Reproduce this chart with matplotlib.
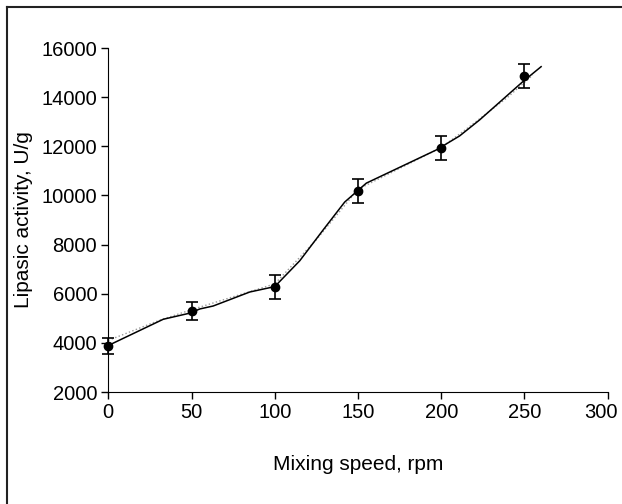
import matplotlib.pyplot as plt
from matplotlib.lines import Line2D
from matplotlib.transforms import ScaledTranslation

plt.rcParams['font.family'] = ['Liberation Sans', 'DejaVu Sans']

# measured points
speed = [0, 50, 100, 150, 200, 250]
activity = [3880, 5300, 6270, 10190, 11930, 14860]
err = [330, 380, 490, 490, 490, 490]

# solid connecting curve
curve_x = [0, 3, 33, 49, 55, 63, 85, 100, 115, 129, 142, 155, 197, 211, 223, 249, 260]
curve_y = [3880, 3990, 4960, 5210, 5380, 5500, 6070, 6290, 7340, 8590, 9730,
           10500, 11850, 12420, 13070, 14630, 15240]

# faint dotted trend line
trend_x = [0, 30, 50, 100, 125, 150, 200, 215, 240, 255]
trend_y = [4100, 4900, 5350, 6400, 8200, 10250, 11950, 12700, 14000, 14900]

fig = plt.figure(figsize=(6.22, 5.04), dpi=100)
ax = fig.add_axes([108.3 / 622, 1 - 392 / 504, 499.4 / 622, 344 / 504])

ax.plot(trend_x, trend_y, color='#999999', linestyle=':', linewidth=1.0)
ax.plot(curve_x, curve_y, color='black', linewidth=1.1)
ax.errorbar(speed, activity, yerr=err, fmt='o', color='black', markersize=6,
            capsize=4, elinewidth=1.2, capthick=1.2, clip_on=False, zorder=3)

ax.set_xlim(0, 300)
ax.set_ylim(2000, 16000)
ax.set_xticks(range(0, 301, 50))
ax.set_yticks(range(2000, 16001, 2000))
ax.spines['top'].set_visible(False)
ax.spines['right'].set_visible(False)
ax.tick_params(direction='out', length=5, labelsize=14.5, width=1, pad=3)
ax.set_xlabel('Mixing speed, rpm', fontsize=15, labelpad=24)
ax.set_ylabel('Lipasic activity, U/g', fontsize=15, labelpad=6)

# nudge the last x label left so it stays inside the figure
last = ax.get_xticklabels()[-1]
last.set_transform(last.get_transform() + ScaledTranslation(-7 / 100, 0, fig.dpi_scale_trans))

# frame around the figure (left and top edges)
fig.add_artist(Line2D([6.5 / 622, 6.5 / 622], [0, 1 - 6.5 / 504], color='#222222', lw=1.5))
fig.add_artist(Line2D([6.5 / 622, 1], [1 - 6.5 / 504, 1 - 6.5 / 504], color='#222222', lw=1.5))

fig.savefig('out.png', dpi=100)
